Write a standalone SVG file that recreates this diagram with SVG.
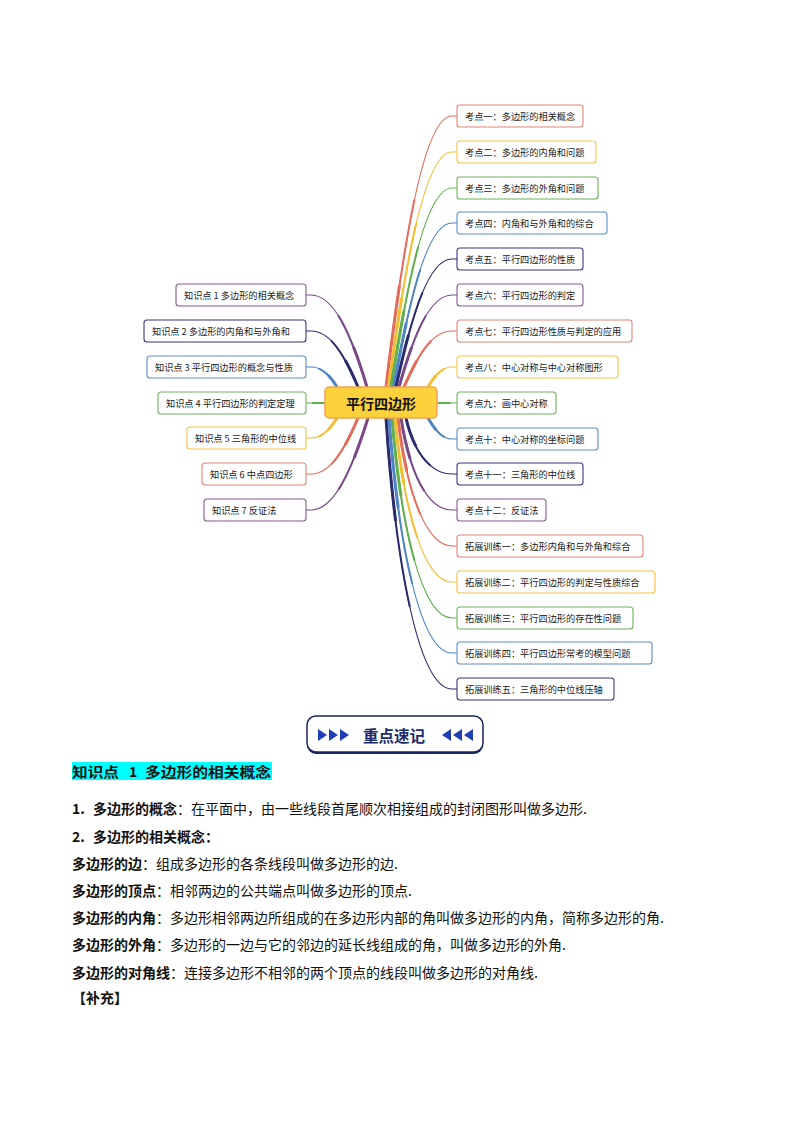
<svg xmlns="http://www.w3.org/2000/svg" xmlns:xlink="http://www.w3.org/1999/xlink" width="794" height="1123" viewBox="0 0 794 1123">
<style>
.k{fill:none;stroke-linecap:round}
.w1{stroke-width:1.1}
.w2{stroke-width:2;stroke-dasharray:65 200}
.w3{stroke-width:3;stroke-dasharray:35 200}
.cR{stroke:#E36C5A}.cY{stroke:#F2BF33}.cG{stroke:#62AF4E}.cB{stroke:#4F85C4}.cN{stroke:#2B2C70}.cP{stroke:#7A4A88}
.nb{fill:#fff;stroke-width:1.1}
.bR{stroke:#E08478}.bY{stroke:#F2C445}.bG{stroke:#6DB35C}.bB{stroke:#5C8CC6}.bN{stroke:#38377A}.bP{stroke:#85598F}
.nt{font-family:"Noto Sans CJK SC","Noto Sans",sans-serif;font-size:9.2px;fill:#1a1a1a;dominant-baseline:central}
.body{font-family:"Noto Sans CJK SC","Noto Sans",sans-serif;font-size:14px;fill:#111;dominant-baseline:central}
.b{font-weight:bold}
</style>
<defs>
<path id="r1" class="k" pathLength="100" d="M386 387C405 230 425 116 452 116H457"/>
<path id="r2" class="k" pathLength="100" d="M388.5 387C407 251 426 152 452 152H457"/>
<path id="r3" class="k" pathLength="100" d="M391 387C409 272 427 188 452 188H457"/>
<path id="r4" class="k" pathLength="100" d="M393.5 387C411 292 428 223 452 223H457"/>
<path id="r5" class="k" pathLength="100" d="M396 387C412 313 429 259 452 259H457"/>
<path id="r6" class="k" pathLength="100" d="M399 387C414 334 430 295 452 295H457"/>
<path id="r7" class="k" pathLength="100" d="M404 387C418 355 432 331 452 331H457"/>
<path id="r8" class="k" pathLength="100" d="M428 387C435 375 442 367 452 367H457"/>
<path id="r9" class="k" pathLength="100" d="M437 403H457"/>
<path id="r10" class="k" pathLength="100" d="M428 418C435 430 442 439 452 439H457"/>
<path id="r11" class="k" pathLength="100" d="M406 418C413 449 429 474 452 474H457"/>
<path id="r12" class="k" pathLength="100" d="M401 418C409 469 426 510 452 510H457"/>
<path id="r13" class="k" pathLength="100" d="M398 418C406 488 425 546 452 546H457"/>
<path id="r14" class="k" pathLength="100" d="M395 418C403.5 508 423.5 582 452 582H457"/>
<path id="r15" class="k" pathLength="100" d="M392 418C401 528 422 618 452 618H457"/>
<path id="r16" class="k" pathLength="100" d="M389 418C398.5 547 420.5 653 452 653H457"/>
<path id="r17" class="k" pathLength="100" d="M386 418C396 567 419 689 452 689H457"/>
<path id="l1" class="k" pathLength="100" d="M367 387C351 334 334 295 311 295H306"/>
<path id="l2" class="k" pathLength="100" d="M358 387C344 354 330 331 311 331H306"/>
<path id="l3" class="k" pathLength="100" d="M337 387C329.5 375 322 367 311 367H306"/>
<path id="l4" class="k" pathLength="100" d="M325 403H306"/>
<path id="l5" class="k" pathLength="100" d="M337 418C329.5 430 322 438 311 438H306"/>
<path id="l6" class="k" pathLength="100" d="M358 418C344 451 330 474 311 474H306"/>
<path id="l7" class="k" pathLength="100" d="M368 418C351.5 471 334 510 311 510H306"/>
</defs>
<rect width="794" height="1123" fill="#fff"/>
<g id="connectors">
<g class="cR"><use href="#r1" class="w1"/><use href="#r1" class="w2"/><use href="#r1" class="w3"/></g>
<g class="cY"><use href="#r2" class="w1"/><use href="#r2" class="w2"/><use href="#r2" class="w3"/></g>
<g class="cG"><use href="#r3" class="w1"/><use href="#r3" class="w2"/><use href="#r3" class="w3"/></g>
<g class="cB"><use href="#r4" class="w1"/><use href="#r4" class="w2"/><use href="#r4" class="w3"/></g>
<g class="cN"><use href="#r5" class="w1"/><use href="#r5" class="w2"/><use href="#r5" class="w3"/></g>
<g class="cP"><use href="#r6" class="w1"/><use href="#r6" class="w2"/><use href="#r6" class="w3"/></g>
<g class="cR"><use href="#r7" class="w1"/><use href="#r7" class="w2"/><use href="#r7" class="w3"/></g>
<g class="cY"><use href="#r8" class="w1"/><use href="#r8" class="w2"/><use href="#r8" class="w3"/></g>
<g class="cG"><use href="#r9" class="w1"/><use href="#r9" class="w2"/></g>
<g class="cB"><use href="#r10" class="w1"/><use href="#r10" class="w2"/><use href="#r10" class="w3"/></g>
<g class="cN"><use href="#r11" class="w1"/><use href="#r11" class="w2"/><use href="#r11" class="w3"/></g>
<g class="cP"><use href="#r12" class="w1"/><use href="#r12" class="w2"/><use href="#r12" class="w3"/></g>
<g class="cR"><use href="#r13" class="w1"/><use href="#r13" class="w2"/><use href="#r13" class="w3"/></g>
<g class="cY"><use href="#r14" class="w1"/><use href="#r14" class="w2"/><use href="#r14" class="w3"/></g>
<g class="cG"><use href="#r15" class="w1"/><use href="#r15" class="w2"/><use href="#r15" class="w3"/></g>
<g class="cB"><use href="#r16" class="w1"/><use href="#r16" class="w2"/><use href="#r16" class="w3"/></g>
<g class="cN"><use href="#r17" class="w1"/><use href="#r17" class="w2"/><use href="#r17" class="w3"/></g>
<g class="cP"><use href="#l1" class="w1"/><use href="#l1" class="w2"/><use href="#l1" class="w3"/></g>
<g class="cN"><use href="#l2" class="w1"/><use href="#l2" class="w2"/><use href="#l2" class="w3"/></g>
<g class="cB"><use href="#l3" class="w1"/><use href="#l3" class="w2"/><use href="#l3" class="w3"/></g>
<g class="cG"><use href="#l4" class="w1"/><use href="#l4" class="w2"/></g>
<g class="cY"><use href="#l5" class="w1"/><use href="#l5" class="w2"/><use href="#l5" class="w3"/></g>
<g class="cR"><use href="#l6" class="w1"/><use href="#l6" class="w2"/><use href="#l6" class="w3"/></g>
<g class="cP"><use href="#l7" class="w1"/><use href="#l7" class="w2"/><use href="#l7" class="w3"/></g>
</g>
<g id="center">
<rect x="325" y="387" width="112" height="31" rx="4" fill="#FDD13C" stroke="#F0A45A" stroke-width="1.5"/>
<text x="381" y="403" text-anchor="middle" font-family="Noto Sans CJK SC, sans-serif" font-size="14" font-weight="bold" fill="#111" dominant-baseline="central">平行四边形</text>
</g>
<g id="k1"><rect class="nb bR" x="457" y="105" width="126" height="22" rx="3"/><text class="nt" x="465" y="116">考点一：多边形的相关概念</text></g>
<g id="k2"><rect class="nb bY" x="457" y="141" width="139" height="22" rx="3"/><text class="nt" x="465" y="152">考点二：多边形的内角和问题</text></g>
<g id="k3"><rect class="nb bG" x="457" y="177" width="141" height="22" rx="3"/><text class="nt" x="465" y="188">考点三：多边形的外角和问题</text></g>
<g id="k4"><rect class="nb bB" x="457" y="212" width="150" height="22" rx="3"/><text class="nt" x="465" y="223">考点四：内角和与外角和的综合</text></g>
<g id="k5"><rect class="nb bN" x="457" y="248" width="126" height="22" rx="3"/><text class="nt" x="465" y="259">考点五：平行四边形的性质</text></g>
<g id="k6"><rect class="nb bP" x="457" y="284" width="126" height="22" rx="3"/><text class="nt" x="465" y="295">考点六：平行四边形的判定</text></g>
<g id="k7"><rect class="nb bR" x="457" y="320" width="175" height="22" rx="3"/><text class="nt" x="465" y="331">考点七：平行四边形性质与判定的应用</text></g>
<g id="k8"><rect class="nb bY" x="457" y="356" width="161" height="22" rx="3"/><text class="nt" x="465" y="367">考点八：中心对称与中心对称图形</text></g>
<g id="k9"><rect class="nb bG" x="457" y="392" width="99" height="22" rx="3"/><text class="nt" x="465" y="403">考点九：画中心对称</text></g>
<g id="k10"><rect class="nb bB" x="457" y="428" width="141" height="22" rx="3"/><text class="nt" x="465" y="439">考点十：中心对称的坐标问题</text></g>
<g id="k11"><rect class="nb bN" x="457" y="463" width="126" height="22" rx="3"/><text class="nt" x="465" y="474">考点十一：三角形的中位线</text></g>
<g id="k12"><rect class="nb bP" x="457" y="499" width="89" height="22" rx="3"/><text class="nt" x="465" y="510">考点十二：反证法</text></g>
<g id="t1"><rect class="nb bR" x="457" y="535" width="186" height="22" rx="3"/><text class="nt" x="465" y="546">拓展训练一：多边形内角和与外角和综合</text></g>
<g id="t2"><rect class="nb bY" x="457" y="571" width="198" height="22" rx="3"/><text class="nt" x="465" y="582">拓展训练二：平行四边形的判定与性质综合</text></g>
<g id="t3"><rect class="nb bG" x="457" y="607" width="176" height="22" rx="3"/><text class="nt" x="465" y="618">拓展训练三：平行四边形的存在性问题</text></g>
<g id="t4"><rect class="nb bB" x="457" y="642" width="195" height="22" rx="3"/><text class="nt" x="465" y="653">拓展训练四：平行四边形常考的模型问题</text></g>
<g id="t5"><rect class="nb bN" x="457" y="678" width="157" height="22" rx="3"/><text class="nt" x="465" y="689">拓展训练五：三角形的中位线压轴</text></g>
<g id="z1"><rect class="nb bP" x="176" y="284" width="130" height="22" rx="3"/><text class="nt" x="184" y="295">知识点 1 多边形的相关概念</text></g>
<g id="z2"><rect class="nb bN" x="144" y="320" width="162" height="22" rx="3"/><text class="nt" x="152" y="331">知识点 2 多边形的内角和与外角和</text></g>
<g id="z3"><rect class="nb bB" x="147" y="356" width="159" height="22" rx="3"/><text class="nt" x="155" y="367">知识点 3 平行四边形的概念与性质</text></g>
<g id="z4"><rect class="nb bG" x="158" y="392" width="148" height="22" rx="3"/><text class="nt" x="166" y="403">知识点 4 平行四边形的判定定理</text></g>
<g id="z5"><rect class="nb bY" x="187" y="427" width="119" height="22" rx="3"/><text class="nt" x="195" y="438">知识点 5 三角形的中位线</text></g>
<g id="z6"><rect class="nb bR" x="202" y="463" width="104" height="22" rx="3"/><text class="nt" x="210" y="474">知识点 6 中点四边形</text></g>
<g id="z7"><rect class="nb bP" x="204" y="499" width="102" height="22" rx="3"/><text class="nt" x="212" y="510">知识点 7 反证法</text></g>
<g id="banner">
<rect x="307" y="718" width="176" height="36" rx="9" fill="#1B2466"/>
<rect x="307" y="716" width="176" height="36" rx="9" fill="#fff" stroke="#1B2466" stroke-width="1.5"/>
<g fill="#1F3DB5">
<polygon points="318,729 318,741 327,735"/><polygon points="329,729 329,741 338,735"/><polygon points="340,729 340,741 349,735"/>
<polygon points="451,729 451,741 442,735"/><polygon points="462,729 462,741 453,735"/><polygon points="473,729 473,741 464,735"/>
</g>
<text x="394" y="735" text-anchor="middle" font-family="Noto Sans CJK SC, sans-serif" font-size="15.5" font-weight="bold" fill="#1C2A6B" dominant-baseline="central">重点速记</text>
</g>
<g id="content">
<rect x="72" y="762" width="200" height="18" fill="#00FFFF"/>
<text class="body b" x="72" y="771" font-size="15.5" textLength="47" lengthAdjust="spacingAndGlyphs">知识点</text>
<text class="body b" x="129" y="771" font-size="15.5">1</text>
<text class="body b" x="145" y="771" font-size="15.5" textLength="126" lengthAdjust="spacingAndGlyphs">多边形的相关概念</text>
<text class="body b" x="72" y="808">1.</text>
<text class="body" x="93" y="808"><tspan class="b">多边形的概念</tspan>：在平面中，由一些线段首尾顺次相接组成的封闭图形叫做多边形.</text>
<text class="body b" x="72" y="836">2.</text>
<text class="body b" x="93" y="836">多边形的相关概念：</text>
<text class="body" x="72" y="863"><tspan class="b">多边形的边</tspan>：组成多边形的各条线段叫做多边形的边.</text>
<text class="body" x="72" y="890"><tspan class="b">多边形的顶点</tspan>：相邻两边的公共端点叫做多边形的顶点.</text>
<text class="body" x="72" y="917"><tspan class="b">多边形的内角</tspan>：多边形相邻两边所组成的在多边形内部的角叫做多边形的内角，简称多边形的角.</text>
<text class="body" x="72" y="944"><tspan class="b">多边形的外角</tspan>：多边形的一边与它的邻边的延长线组成的角，叫做多边形的外角.</text>
<text class="body" x="72" y="972"><tspan class="b">多边形的对角线</tspan>：连接多边形不相邻的两个顶点的线段叫做多边形的对角线.</text>
<text class="body b" x="72" y="997">【补充】</text>
</g>
</svg>
